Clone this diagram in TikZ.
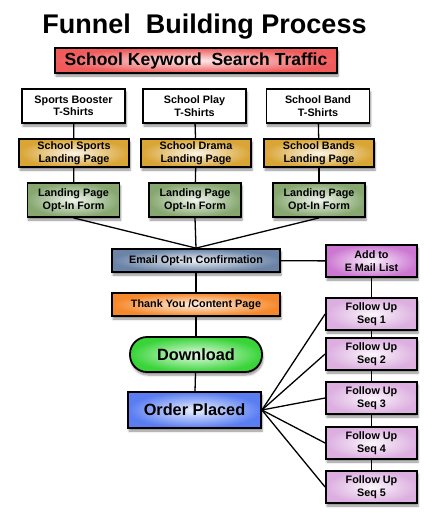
\documentclass[tikz,border=0pt]{standalone}
\usepackage{fontspec}
\setmainfont{Liberation Sans}
\usepackage{tikz}
\usetikzlibrary{shadows.blur}
\pgfdeclarelayer{edgelayer}
\pgfdeclarelayer{nodelayer}
\pgfsetlayers{edgelayer,nodelayer,main}

\definecolor{trafficred}{HTML}{F05A5A}
\definecolor{landgold}{HTML}{D9A535}
\definecolor{formgreen}{HTML}{86A870}
\definecolor{mailblue}{HTML}{6A83A6}
\definecolor{thankorange}{HTML}{F5882A}
\definecolor{dlgreen}{HTML}{38D438}
\definecolor{orderblue}{HTML}{5A7EF2}
\definecolor{listviolet}{HTML}{CC78D2}
\definecolor{seqviolet}{HTML}{DCAFE0}

\tikzset{
  box/.style={draw=black, line width=1.8pt, inner sep=0pt, align=center,
    font=\bfseries\fontsize{10.8}{12.5}\selectfont,
    blur shadow={shadow xshift=1pt, shadow yshift=-3pt, shadow blur steps=6, shadow opacity=45}},
  glow/.style={inner color=#1!12, outer color=#1},
  edge/.style={line width=1.3pt}
}

\begin{document}
\begin{tikzpicture}[x=1pt, y=-1pt]
  \useasboundingbox (0,0) rectangle (435,525);
  \begin{pgfonlayer}{nodelayer}
    \node (t) [anchor=base, font=\bfseries\fontsize{27}{30}\selectfont] at (204.5, 33) {Funnel\ \ Building Process};
    \node (0) [box, glow=trafficred, minimum width=282, minimum height=25, font=\bfseries\fontsize{17.5}{20}\selectfont] at (196, 60.5) {School Keyword\ \ Search Traffic};
    \node (1) [box, fill=white, minimum width=103, minimum height=34] at (73.5, 106) {Sports Booster\\T-Shirts};
    \node (2) [box, fill=white, minimum width=103, minimum height=34] at (194.5, 106) {School Play\\T-Shirts};
    \node (3) [box, fill=white, minimum width=103, minimum height=34] at (318, 106) {School Band\\T-Shirts};
    \node (4) [box, glow=landgold, minimum width=110, minimum height=28] at (74, 153) {School Sports\\Landing Page};
    \node (5) [box, glow=landgold, minimum width=110, minimum height=28] at (196, 153) {School Drama\\Landing Page};
    \node (6) [box, glow=landgold, minimum width=110, minimum height=28] at (319, 153) {School Bands\\Landing Page};
    \node (7) [box, glow=formgreen, minimum width=92, minimum height=34] at (73.5, 200) {Landing Page\\Opt-In Form};
    \node (8) [box, glow=formgreen, minimum width=92, minimum height=34] at (195, 200) {Landing Page\\Opt-In Form};
    \node (9) [box, glow=formgreen, minimum width=92, minimum height=34] at (319, 200) {Landing Page\\Opt-In Form};
    \node (10) [box, glow=mailblue, minimum width=168, minimum height=23] at (196, 260.5) {Email Opt-In Confirmation};
    \node (11) [box, glow=listviolet, minimum width=91, minimum height=32] at (371.5, 261) {Add to\\E Mail List};
    \node (12) [box, glow=thankorange, minimum width=168, minimum height=23] at (196, 304.5) {Thank You /Content Page};
    \node (13) [box, glow=dlgreen, rounded corners=17pt, minimum width=132, minimum height=35, font=\bfseries\fontsize{16.3}{19}\selectfont] at (196, 354.5) {Download};
    \node (14) [box, glow=orderblue, minimum width=133, minimum height=36, font=\bfseries\fontsize{16.3}{19}\selectfont] at (194.5, 410) {Order Placed};
    \node (15) [box, glow=seqviolet, minimum width=91, minimum height=32] at (371.5, 314) {Follow Up\\Seq 1};
    \node (16) [box, glow=seqviolet, minimum width=91, minimum height=32] at (371.5, 354) {Follow Up\\Seq 2};
    \node (17) [box, glow=seqviolet, minimum width=91, minimum height=32] at (371.5, 398) {Follow Up\\Seq 3};
    \node (18) [box, glow=seqviolet, minimum width=91, minimum height=32] at (371.5, 443) {Follow Up\\Seq 4};
    \node (19) [box, glow=seqviolet, minimum width=91, minimum height=32] at (371.5, 487) {Follow Up\\Seq 5};
  \end{pgfonlayer}
  \begin{pgfonlayer}{edgelayer}
    \draw [edge] (1) to (4);
    \draw [edge] (2) to (5);
    \draw [edge] (3) to (6);
    \draw [edge] (4) to (7);
    \draw [edge] (5) to (8);
    \draw [edge] (6) to (9);
    \draw [edge] (7.south) to (10.north);
    \draw [edge] (8.south) to (10.north);
    \draw [edge] (9.south) to (10.north);
    \draw [edge] (10) to (11);
    \draw [edge] (10) to (12);
    \draw [edge] (12) to (13);
    \draw [edge] (13) to (14);
    \draw [edge] (11) to (15);
    \draw [edge] (15) to (16);
    \draw [edge] (16) to (17);
    \draw [edge] (17) to (18);
    \draw [edge] (18) to (19);
    \draw [edge] (14.east) to (15.west);
    \draw [edge] (14.east) to (16.west);
    \draw [edge] (14.east) to (17.west);
    \draw [edge] (14.east) to (18.west);
    \draw [edge] (14.east) to (19.west);
  \end{pgfonlayer}
\end{tikzpicture}
\end{document}
